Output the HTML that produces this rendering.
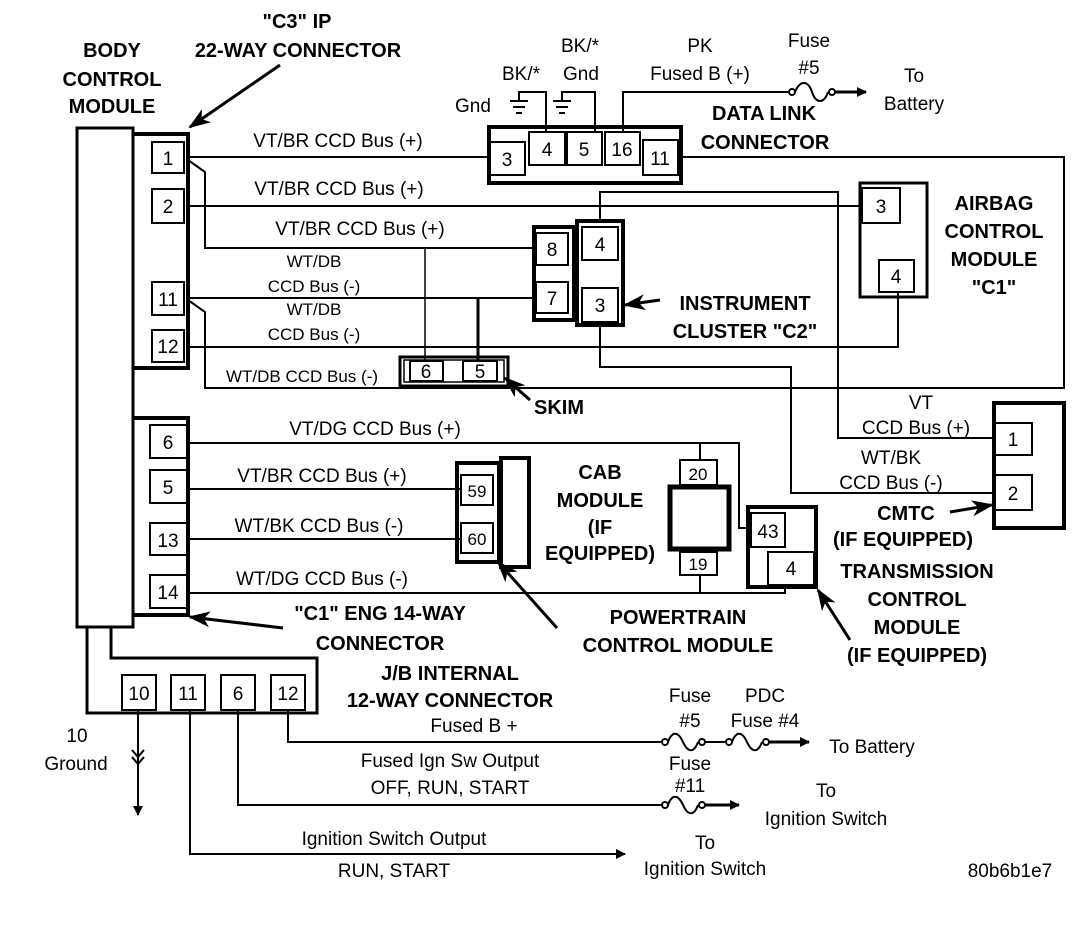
<!DOCTYPE html>
<html><head><meta charset="utf-8"><style>
html,body{margin:0;padding:0;background:#fff;}
svg{display:block;}
text{font-family:"Liberation Sans",sans-serif;font-size:19px;fill:#000;}
.b{font-weight:bold;font-size:20px;}
.m{text-anchor:middle;}
</style></head><body>
<svg width="1088" height="934" viewBox="0 0 1088 934" xmlns="http://www.w3.org/2000/svg">
<defs>
<marker id="ah" markerWidth="10" markerHeight="10" refX="9" refY="5" orient="auto" markerUnits="userSpaceOnUse"><path d="M0,0 L10,5 L0,10 Z"/></marker>
<marker id="ab" markerWidth="22" markerHeight="16" refX="20" refY="8" orient="auto" markerUnits="userSpaceOnUse"><path d="M0,0 L22,8 L0,16 L6,8 Z"/></marker>
</defs>
<g fill="none" stroke="#000" stroke-width="2">
<rect x="77" y="128" width="56" height="499" stroke-width="3"/>
<path d="M133,134 H188 V368 H133" stroke-width="4"/>
<rect x="152" y="142" width="32" height="31"/>
<rect x="152" y="189" width="32" height="34"/>
<rect x="152" y="282" width="32" height="33"/>
<rect x="152" y="330" width="32" height="32"/>
<path d="M133,418 H188 V615 H133" stroke-width="4"/>
<rect x="150" y="425" width="37" height="33"/>
<rect x="150" y="470" width="37" height="33"/>
<rect x="150" y="523" width="37" height="32"/>
<rect x="150" y="575" width="37" height="33"/>
<path d="M188,157 H489"/>
<path d="M188,160 L205,172 V248 H534"/>
<path d="M188,206 H860"/>
<path d="M425,248 V361" stroke-width="1.5"/>
<path d="M188,298 H534"/>
<path d="M478,298 V361" stroke-width="3"/>
<path d="M188,300 L205,312 V388 H1064 V157 H681"/>
<path d="M188,347 H898 V293"/>
<rect x="400" y="357" width="108" height="29" stroke-width="3"/>
<rect x="404" y="360" width="100" height="22" stroke-width="1.5"/>
<rect x="410" y="361" width="33" height="20"/>
<rect x="463" y="361" width="34" height="20"/>
<rect x="489" y="127" width="192" height="56" stroke-width="4"/>
<rect x="490" y="142" width="35" height="33"/>
<rect x="529" y="132" width="36" height="33"/>
<rect x="567" y="132" width="35" height="33"/>
<rect x="605" y="132" width="35" height="33"/>
<rect x="643" y="140" width="35" height="35"/>
<path d="M546,132 V92 H519 V100"/>
<path d="M510,101 H528 M513,107 H525 M516,113 H522"/>
<path d="M595,132 V92 H562 V100"/>
<path d="M553,101 H571 M556,107 H568 M559,113 H565"/>
<path d="M623,132 V92 H788"/>
<circle cx="792" cy="92" r="3"/>
<path d="M795,92 C800,80 808,80 812,92 C816,104 824,104 828,92"/>
<circle cx="832" cy="92" r="3"/>
<path d="M835,92 H866" marker-end="url(#ah)" stroke-width="3"/>
<rect x="534" y="227" width="40" height="93" stroke-width="4"/>
<rect x="536" y="233" width="32" height="32"/>
<rect x="536" y="282" width="32" height="31"/>
<rect x="577" y="221" width="46" height="104" stroke-width="4"/>
<rect x="582" y="227" width="36" height="33"/>
<rect x="582" y="288" width="36" height="34"/>
<path d="M600,221 V192 H838 V438 H994"/>
<path d="M600,325 V367 H791 V493 H994"/>
<rect x="860" y="183" width="67" height="114" stroke-width="3"/>
<rect x="862" y="188" width="38" height="35"/>
<rect x="879" y="260" width="35" height="32"/>
<rect x="994" y="403" width="70" height="125" stroke-width="4"/>
<rect x="994" y="423" width="38" height="32"/>
<rect x="994" y="475" width="38" height="35"/>
<path d="M188,443 H739 V528 H750"/>
<path d="M700,443 V460"/>
<path d="M188,489 H461"/>
<path d="M188,539 H461"/>
<path d="M188,593 H785 V587"/>
<path d="M700,575 V593"/>
<rect x="457" y="463" width="42" height="99" stroke-width="4"/>
<rect x="461" y="475" width="32" height="30"/>
<rect x="461" y="523" width="32" height="30"/>
<rect x="501" y="458" width="28" height="109" stroke-width="4"/>
<rect x="680" y="460" width="37" height="25"/>
<rect x="670" y="487" width="59" height="62" stroke-width="5"/>
<rect x="680" y="552" width="37" height="23"/>
<rect x="748" y="507" width="68" height="80" stroke-width="4"/>
<rect x="751" y="513" width="34" height="34"/>
<rect x="768" y="552" width="46" height="33"/>
<path d="M87,627 V713 H317 V658 H111 V627" stroke-width="3"/>
<rect x="122" y="675" width="34" height="35"/>
<rect x="171" y="675" width="34" height="35"/>
<rect x="221" y="675" width="34" height="35"/>
<rect x="271" y="675" width="34" height="35"/>
<path d="M138,710 V815" marker-end="url(#ah)" stroke-width="2"/>
<path d="M132,750 L138,757 L144,750 M132,757 L138,764 L144,757"/>
<path d="M288,710 V742 H661"/>
<circle cx="665" cy="742" r="3"/><path d="M668,742 C672,731 678,731 683,742 C688,753 694,753 698,742"/><circle cx="702" cy="742" r="3"/>
<path d="M705,742 H725"/>
<circle cx="729" cy="742" r="3"/><path d="M732,742 C736,731 742,731 747,742 C752,753 758,753 762,742"/><circle cx="766" cy="742" r="3"/>
<path d="M769,742 H809" marker-end="url(#ah)" stroke-width="3"/>
<path d="M238,710 V805 H661"/>
<circle cx="665" cy="805" r="3"/><path d="M668,805 C672,794 678,794 683,805 C688,816 694,816 698,805"/><circle cx="702" cy="805" r="3"/>
<path d="M705,805 H739" marker-end="url(#ah)" stroke-width="3"/>
<path d="M190,710 V854 H625" marker-end="url(#ah)"/>
<path d="M280,65 L190,127" marker-end="url(#ab)" stroke-width="3"/>
<path d="M660,300 L625,305" marker-end="url(#ab)" stroke-width="3"/>
<path d="M530,400 L505,378" marker-end="url(#ab)" stroke-width="3"/>
<path d="M950,512 L992,505" marker-end="url(#ab)" stroke-width="3"/>
<path d="M283,628 L190,617" marker-end="url(#ab)" stroke-width="3"/>
<path d="M557,628 L498,562" marker-end="url(#ab)" stroke-width="3"/>
<path d="M850,640 L818,590" marker-end="url(#ab)" stroke-width="3"/>
</g>
<g class="m">
<text x="168" y="165" class="m">1</text><text x="168" y="213" class="m">2</text>
<text x="168" y="306" class="m">11</text><text x="168" y="353" class="m">12</text>
<text x="168" y="449" class="m">6</text><text x="168" y="494" class="m">5</text>
<text x="168" y="547" class="m">13</text><text x="168" y="599" class="m">14</text>
<text x="507" y="166" class="m">3</text><text x="547" y="156" class="m">4</text>
<text x="584" y="156" class="m">5</text><text x="622" y="156" class="m">16</text>
<text x="660" y="165" class="m">11</text>
<text x="552" y="256" class="m">8</text><text x="552" y="305" class="m">7</text>
<text x="600" y="251" class="m">4</text><text x="600" y="312" class="m">3</text>
<text x="881" y="213" class="m">3</text><text x="896" y="283" class="m">4</text>
<text x="1013" y="446" class="m">1</text><text x="1013" y="500" class="m">2</text>
<text x="426" y="378" class="m">6</text><text x="480" y="378" class="m">5</text>
<text x="477" y="497" class="m" style="font-size:17px">59</text>
<text x="477" y="545" class="m" style="font-size:17px">60</text>
<text x="698" y="480" class="m" style="font-size:17px">20</text>
<text x="698" y="570" class="m" style="font-size:17px">19</text>
<text x="768" y="538" class="m">43</text><text x="791" y="575" class="m">4</text>
<text x="139" y="700" class="m">10</text><text x="188" y="700" class="m">11</text>
<text x="238" y="700" class="m">6</text><text x="288" y="700" class="m">12</text>
</g>
<text x="112" y="57" class="b m">BODY</text>
<text x="112" y="86" class="b m">CONTROL</text>
<text x="112" y="113" class="b m">MODULE</text>
<text x="297" y="28" class="b m">"C3" IP</text>
<text x="298" y="57" class="b m">22-WAY CONNECTOR</text>
<text x="764" y="120" class="b m">DATA LINK</text>
<text x="765" y="149" class="b m">CONNECTOR</text>
<text x="994" y="210" class="b m">AIRBAG</text>
<text x="994" y="238" class="b m">CONTROL</text>
<text x="994" y="266" class="b m">MODULE</text>
<text x="994" y="294" class="b m">"C1"</text>
<text x="745" y="310" class="b m">INSTRUMENT</text>
<text x="745" y="338" class="b m">CLUSTER "C2"</text>
<text x="559" y="414" class="b m">SKIM</text>
<text x="600" y="479" class="b m">CAB</text>
<text x="600" y="507" class="b m">MODULE</text>
<text x="600" y="534" class="b m">(IF</text>
<text x="600" y="560" class="b m">EQUIPPED)</text>
<text x="906" y="520" class="b m">CMTC</text>
<text x="903" y="546" class="b m">(IF EQUIPPED)</text>
<text x="917" y="578" class="b m">TRANSMISSION</text>
<text x="917" y="606" class="b m">CONTROL</text>
<text x="917" y="634" class="b m">MODULE</text>
<text x="917" y="662" class="b m">(IF EQUIPPED)</text>
<text x="380" y="620" class="b m">"C1" ENG 14-WAY</text>
<text x="380" y="650" class="b m">CONNECTOR</text>
<text x="678" y="624" class="b m">POWERTRAIN</text>
<text x="678" y="652" class="b m">CONTROL MODULE</text>
<text x="450" y="680" class="b m">J/B INTERNAL</text>
<text x="450" y="707" class="b m">12-WAY CONNECTOR</text>
<text x="338" y="147" class="m">VT/BR  CCD Bus (+)</text>
<text x="339" y="195" class="m">VT/BR CCD Bus (+)</text>
<text x="360" y="235" class="m">VT/BR  CCD Bus (+)</text>
<text x="314" y="267" class="m" style="font-size:17px">WT/DB</text>
<text x="314" y="292" class="m" style="font-size:17px">CCD Bus (-)</text>
<text x="314" y="315" class="m" style="font-size:17px">WT/DB</text>
<text x="314" y="340" class="m" style="font-size:17px">CCD Bus (-)</text>
<text x="302" y="382" class="m" style="font-size:17px">WT/DB CCD Bus (-)</text>
<text x="580" y="52" class="m">BK/*</text>
<text x="521" y="80" class="m">BK/*</text>
<text x="581" y="80" class="m">Gnd</text>
<text x="473" y="112" class="m">Gnd</text>
<text x="700" y="52" class="m">PK</text>
<text x="700" y="80" class="m">Fused B (+)</text>
<text x="809" y="47" class="m">Fuse</text>
<text x="809" y="74" class="m">#5</text>
<text x="914" y="82" class="m">To</text>
<text x="914" y="110" class="m">Battery</text>
<text x="921" y="409" class="m">VT</text>
<text x="916" y="434" class="m">CCD Bus (+)</text>
<text x="891" y="464" class="m">WT/BK</text>
<text x="891" y="489" class="m">CCD Bus (-)</text>
<text x="375" y="435" class="m">VT/DG  CCD Bus (+)</text>
<text x="322" y="482" class="m">VT/BR  CCD Bus (+)</text>
<text x="319" y="532" class="m">WT/BK  CCD Bus (-)</text>
<text x="322" y="585" class="m">WT/DG  CCD Bus (-)</text>
<text x="77" y="742" class="m">10</text>
<text x="76" y="770" class="m">Ground</text>
<text x="474" y="732" class="m">Fused B +</text>
<text x="690" y="702" class="m">Fuse</text>
<text x="690" y="727" class="m">#5</text>
<text x="765" y="702" class="m">PDC</text>
<text x="765" y="727" class="m">Fuse #4</text>
<text x="872" y="753" class="m">To Battery</text>
<text x="450" y="767" class="m">Fused Ign Sw Output</text>
<text x="450" y="794" class="m">OFF, RUN, START</text>
<text x="690" y="770" class="m">Fuse</text>
<text x="690" y="792" class="m">#11</text>
<text x="826" y="797" class="m">To</text>
<text x="826" y="825" class="m">Ignition Switch</text>
<text x="394" y="845" class="m">Ignition Switch Output</text>
<text x="394" y="877" class="m">RUN, START</text>
<text x="705" y="849" class="m">To</text>
<text x="705" y="875" class="m">Ignition Switch</text>
<text x="1010" y="877" class="m">80b6b1e7</text>
</svg>
</body></html>
